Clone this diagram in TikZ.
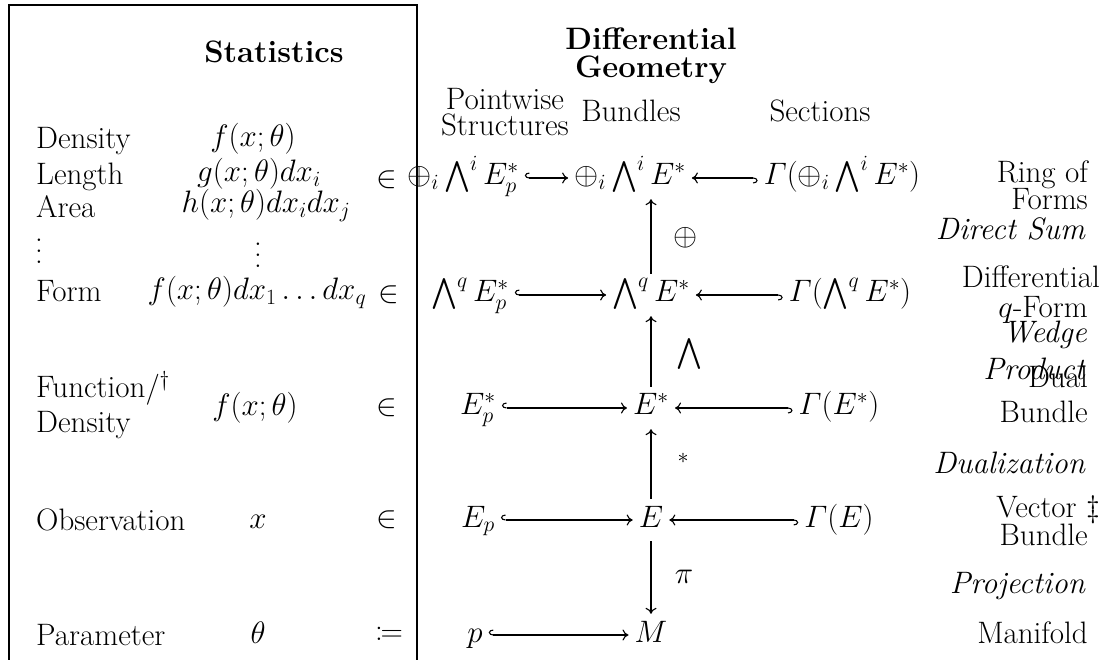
\RequirePackage{fix-cm}
\documentclass[tikz,border=0pt]{standalone}
\usepackage{amsmath,amssymb,mathtools}
\usetikzlibrary{arrows.meta}
\newcommand{\myvdots}{\vbox{\baselineskip=11pt\lineskiplimit=-20pt\hbox{.}\hbox{.}\hbox{.}}}
\begin{document}
\begin{tikzpicture}[x=1pt,y=-1pt,
  every node/.style={font=\fontsize{31}{34}\selectfont, inner sep=0pt},
  lab/.style={anchor=base west},
  rlab/.style={anchor=base east},
  hd/.style={anchor=base, font=\fontsize{31}{34}\selectfont\bfseries},
  ctr/.style={anchor=base},
  cd/.style={inner sep=6pt, text height=22pt, text depth=8pt},
  hk/.style={line width=1.1pt, {Hooks[right,length=4.5pt,width=11pt]}-{To[length=6pt,width=11pt]}},
  ar/.style={line width=1.1pt, -{To[length=6pt,width=11pt]}},
]
\useasboundingbox (0,0) rectangle (1120,660);
% frame of the statistics column
\draw[line width=1.2pt] (9,660) -- (9,5) -- (417,5) -- (417,660);

% headers
\node[hd] (hstat) at (274,63) {Statistics};
\node[hd] (hdg1) at (651,50) {Differential};
\node[hd] (hdg2) at (651,78) {Geometry};
\node[ctr] (hpw1) at (505,110) {Pointwise};
\node[ctr] (hpw2) at (505,136) {Structures};
\node[ctr] (hbun) at (631,122) {Bundles};
\node[ctr] (hsec) at (820,122) {Sections};

% statistics column
\node[lab] (tdens) at (36,149) {Density};
\node[lab] (tlen) at (36,185) {Length};
\node[lab] (tarea) at (36,218) {Area};
\node[ctr] (tvd) at (39,264) {\myvdots};
\node[lab] (tform) at (36,302) {Form};
\node[lab] (tfun) at (36,398) {Function/$^\dagger$};
\node[lab] (tfd) at (36,432) {Density};
\node[lab] (tobs) at (36,530) {Observation};
\node[lab] (tpar) at (36,645) {Parameter};

\node[ctr] (fdens) at (253,147) {$f(x;\theta)$};
\node[ctr] (flen) at (259,182) {$g(x;\theta)dx_i$};
\node[ctr] (farea) at (266,213) {$h(x;\theta)dx_idx_j$};
\node[ctr] (fvd) at (258,268) {\myvdots};
\node[ctr] (fform) at (257,300) {$f(x;\theta)dx_1\dots dx_q$};
\node[ctr] (ffun) at (255,416) {$f(x;\theta)$};
\node[ctr] (fobs) at (258,528) {$x$};
\node[ctr] (fpar) at (258,643) {$\theta$};

\node (in1) at (387,180) {$\in$};
\node (in2) at (389,295) {$\in$};
\node (in3) at (387,408) {$\in$};
\node (in4) at (387,520) {$\in$};
\node (def5) at (389,634) {$\coloneqq$};

% diagram
\node[cd] (A1) at (463,178) {$\oplus_i\bigwedge^i E_p^*$};
\node[cd] (B1) at (630,178) {$\oplus_i\bigwedge^i E^*$};
\node[cd] (C1) at (842,178) {$\varGamma(\oplus_i\bigwedge^i E^*)$};
\node[cd] (A2) at (470,295) {$\bigwedge^q E_p^*$};
\node[cd] (B2) at (651,295) {$\bigwedge^q E^*$};
\node[cd] (C2) at (850,295) {$\varGamma(\bigwedge^q E^*)$};
\node[cd] (A3) at (478,408) {$E_p^*$};
\node[cd] (B3) at (651,408) {$E^*$};
\node[cd] (C3) at (839,408) {$\varGamma(E^*)$};
\node[cd] (A4) at (478,520) {$E_p$};
\node[cd] (B4) at (651,520) {$E$};
\node[cd] (C4) at (839,520) {$\varGamma(E)$};
\node[cd] (A5) at (475,635) {$p$};
\node[cd] (B5) at (651,635) {$M$};

\draw[hk] (A1) -- (B1);
\draw[hk] (C1) -- (B1);
\draw[hk] (A2) -- (B2);
\draw[hk] (C2) -- (B2);
\draw[hk] (A3) -- (B3);
\draw[hk] (C3) -- (B3);
\draw[hk] (A4) -- (B4);
\draw[hk] (C4) -- (B4);
\draw[hk] (A5) -- (B5);

\draw[ar] (B2.north) -- (B2.north |- B1.south);
\draw[ar] (B3.north) -- (B2.south);
\draw[ar] (B4.north) -- (B3.south);
\draw[ar] (B4.south) -- (B5.north);

\node (l1) at (686,238) {$\oplus$};
\node (l2) at (689,354) {$\bigwedge$};
\node[font=\fontsize{22}{24}\selectfont] (l3) at (683,458) {$*$};
\node (l4) at (684,577) {$\pi$};

% right column
\node[rlab] (r1) at (1088,183) {Ring of};
\node[rlab] (r2) at (1088,210) {Forms};
\node[rlab] (r3) at (1085,240) {\itshape Direct Sum};
\node[rlab] (r4) at (1100,288) {Differential};
\node[rlab] (r5) at (1088,318) {$q$-Form};
\node[rlab] (r6) at (1087,343) {\itshape Wedge};
\node[rlab] (r7) at (1085,380) {\itshape Product};
\node[rlab] (r8) at (1088,388) {Dual};
\node[rlab] (r9) at (1088,423) {Bundle};
\node[rlab] (r10) at (1085,473) {\itshape Dualization};
\node[rlab] (r11) at (1100,517) {Vector $\ddagger$};
\node[rlab] (r12) at (1088,545) {Bundle};
\node[rlab] (r13) at (1085,593) {\itshape Projection};
\node[rlab] (r14) at (1088,643) {Manifold};
\end{tikzpicture}
\end{document}
